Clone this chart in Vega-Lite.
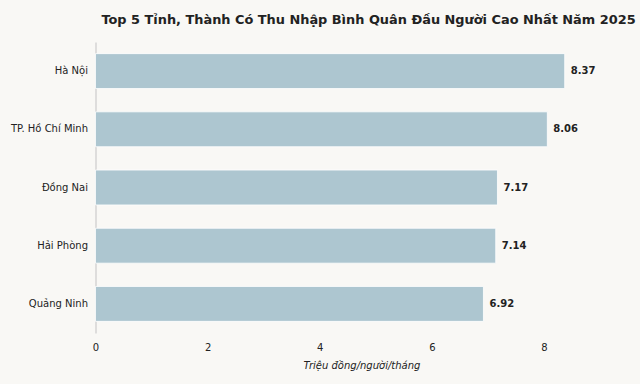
{
  "$schema": "https://vega.github.io/schema/vega-lite/v6.json",
  "autosize": "none",
  "width": 532,
  "height": 291,
  "padding": {"left": 95.5, "top": 42, "right": 12.5, "bottom": 51},
  "background": "#f9f8f5",
  "title": {
    "text": "Top 5 Tỉnh, Thành Có Thu Nhập Bình Quân Đầu Người Cao Nhất Năm 2025",
    "font": "DejaVu Sans",
    "fontSize": 12.9,
    "fontWeight": "bold",
    "color": "#222222",
    "anchor": "middle",
    "frame": "group",
    "dx": 7,
    "offset": 15
  },
  "data": {
    "values": [
      {"province": "Hà Nội", "income": 8.37},
      {"province": "TP. Hồ Chí Minh", "income": 8.06},
      {"province": "Đồng Nai", "income": 7.17},
      {"province": "Hải Phòng", "income": 7.14},
      {"province": "Quảng Ninh", "income": 6.92}
    ]
  },
  "config": {
    "view": {"stroke": null},
    "font": "DejaVu Sans"
  },
  "encoding": {
    "y": {
      "field": "province",
      "type": "nominal",
      "sort": null,
      "scale": {"paddingInner": 0.4, "paddingOuter": 0.2},
      "axis": {
        "title": null,
        "ticks": false,
        "labelPadding": 8,
        "labelFontSize": 10,
        "labelColor": "#222222",
        "labelFont": "DejaVu Sans",
        "domainColor": "#cccccc",
        "domainWidth": 1.2
      }
    },
    "x": {
      "field": "income",
      "type": "quantitative",
      "scale": {"domain": [0, 9.49], "nice": false},
      "axis": {
        "values": [0, 2, 4, 6, 8],
        "grid": false,
        "domain": false,
        "ticks": false,
        "labelFlush": false,
        "labelPadding": 9,
        "labelFontSize": 10,
        "labelColor": "#222222",
        "labelFont": "DejaVu Sans",
        "title": "Triệu đồng/người/tháng",
        "titleFont": "DejaVu Sans",
        "titleFontSize": 10,
        "titleFontWeight": "normal",
        "titleFontStyle": "italic",
        "titleColor": "#222222",
        "titlePadding": 8
      }
    }
  },
  "layer": [
    {
      "mark": {"type": "bar", "color": "#adc6d0", "stroke": "#ffffff", "strokeWidth": 0.8}
    },
    {
      "mark": {"type": "text", "align": "left", "dx": 6, "fontSize": 10, "fontWeight": "bold", "color": "#222222", "font": "DejaVu Sans"},
      "encoding": {"text": {"field": "income", "type": "quantitative", "format": ".2f"}}
    }
  ]
}
